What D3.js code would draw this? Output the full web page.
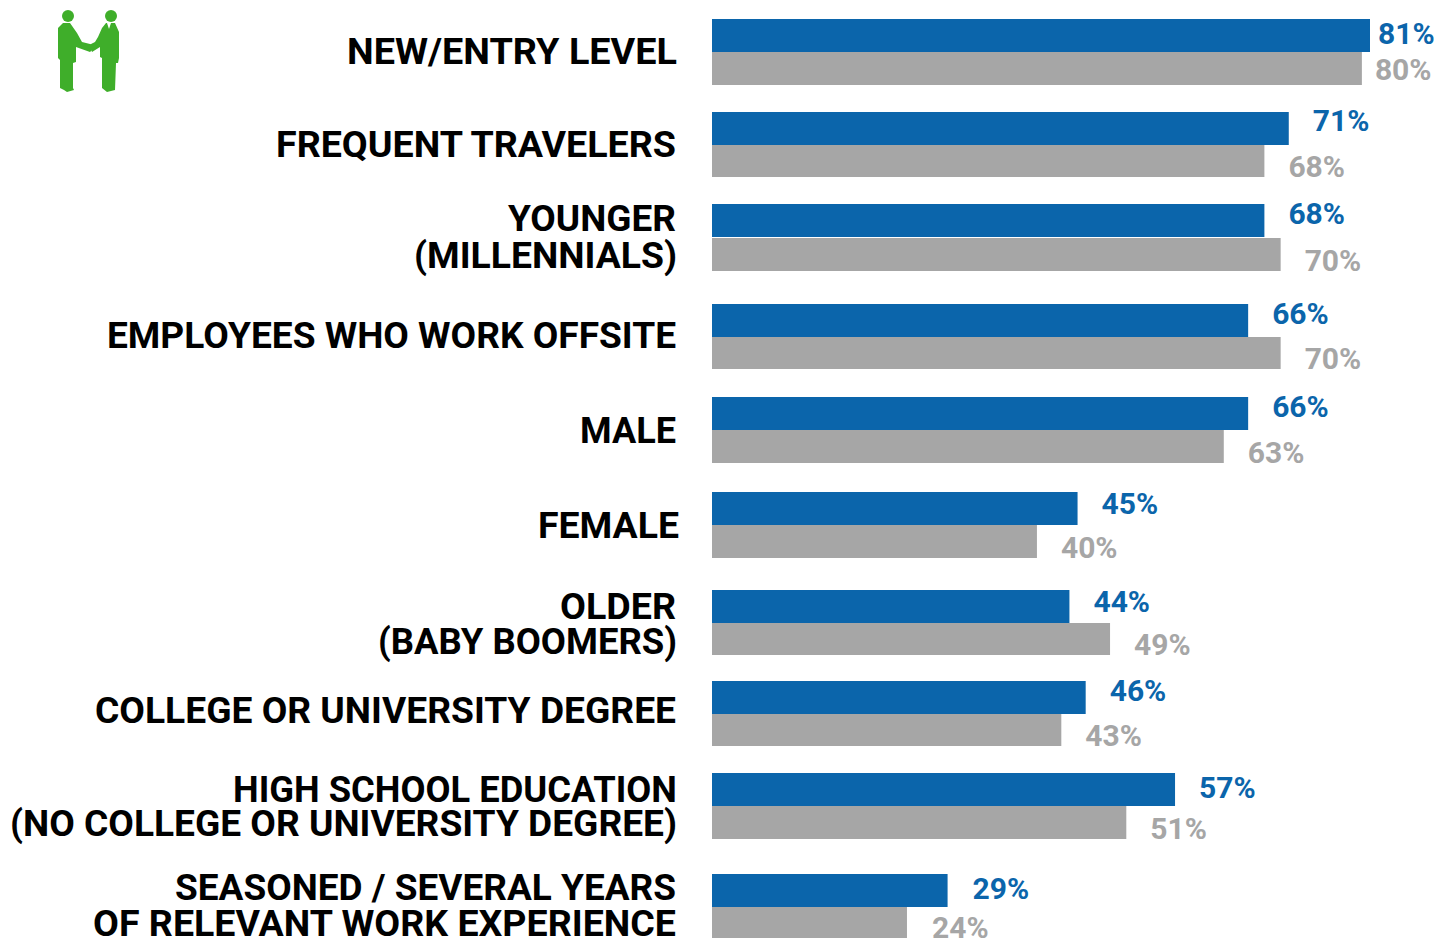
<!DOCTYPE html>
<html><head><meta charset="utf-8">
<script src="https://cdn.jsdelivr.net/npm/d3@7/dist/d3.min.js"></script>
<style>html,body{margin:0;padding:0;background:#fff;overflow:hidden}svg{display:block}
text{font-family:Roboto,sans-serif;font-weight:700}</style></head><body>
<script>
const categories = ["NEW/ENTRY LEVEL","FREQUENT TRAVELERS","YOUNGER|(MILLENNIALS)","EMPLOYEES WHO WORK OFFSITE","MALE","FEMALE","OLDER|(BABY BOOMERS)","COLLEGE OR UNIVERSITY DEGREE","HIGH SCHOOL EDUCATION|(NO COLLEGE OR UNIVERSITY DEGREE)","SEASONED / SEVERAL YEARS|OF RELEVANT WORK EXPERIENCE"];
const blueValues = [81,71,68,66,66,45,44,46,57,29];
const grayValues = [80,68,70,70,63,40,49,43,51,24];

// layout: the source spaces its rows unevenly
const rowNudge = [0,-2,-5,0,-2,-2,1,-3,-6,0];
const grayGap = [0,0,1,0,0,0,0,0,0,0];
const grayH = [33,32,33,32,33,33,32,32,33,31];
const blueLabelDy = [-2.5,-8.5,-7,-7,-7,-5,-5.5,-7.5,-2.5,-2.5];
const grayLabelDy = [1,4.5,6.5,4.5,5.5,5.5,4.5,4.5,5.5,3.5];
const labelDx = {blue:[8,24,24,24,24,24,24,24,24,25], gray:[13,24,24,24,24,24,24,24,24,25]};
const lineCentres = [[32],[32],[14,51],[31],[33],[33],[16,51],[29],[16,50],[13,49]];
const lineRight = [[677],[676],[676,677],[676],[676],[679],[676,677],[676],[677,677],[676,676]];
const lineWidth = [[330],[400],[168,263],[569],[96],[141],[116,299],[581],[444,667],[501,583]];

const W=1434,H=947,barH=33;
const svg=d3.select("body").append("svg").attr("width",W).attr("height",H);
const x=d3.scaleLinear().domain([0,81]).range([712,1370]);
const y=d3.scalePoint().domain(d3.range(categories.length)).range([19,874]);
const top_=i=>y(i)+rowNudge[i];

const rows=svg.selectAll("g.row").data(categories).join("g").attr("class","row");
rows.append("rect").attr("x",x(0)).attr("y",(d,i)=>top_(i)).attr("height",barH).attr("width",(d,i)=>x(blueValues[i])-x(0)).attr("fill","#0b65ab");
rows.append("rect").attr("x",x(0)).attr("y",(d,i)=>top_(i)+barH+grayGap[i]).attr("height",(d,i)=>grayH[i]).attr("width",(d,i)=>x(grayValues[i])-x(0)).attr("fill","#a6a6a6");
rows.append("text").attr("x",(d,i)=>x(blueValues[i])+labelDx.blue[i]).attr("y",(d,i)=>top_(i)+barH/2+blueLabelDy[i]).attr("dy","0.35em").attr("font-size",30).attr("fill","#0b65ab").text((d,i)=>blueValues[i]+"%");
rows.append("text").attr("x",(d,i)=>x(grayValues[i])+labelDx.gray[i]).attr("y",(d,i)=>top_(i)+barH*1.5+grayLabelDy[i]).attr("dy","0.35em").attr("font-size",30).attr("fill","#a6a6a6").text((d,i)=>grayValues[i]+"%");
rows.each(function(d,i){
  d.split("|").forEach((line,k)=>{
    d3.select(this).append("text").attr("x",lineRight[i][k]).attr("y",top_(i)+lineCentres[i][k]).attr("dy","0.355em")
      .attr("text-anchor","end").attr("font-size",37).attr("fill","#000")
      .attr("textLength",lineWidth[i][k]).attr("lengthAdjust","spacingAndGlyphs").text(line);
  });
});

// handshake icon
const icon=svg.append("g").attr("fill","#3fae2a");
icon.append("circle").attr("cx",68).attr("cy",16).attr("r",6);
icon.append("circle").attr("cx",111).attr("cy",16).attr("r",6);
icon.append("path").attr("d","M58 28 L59 27 L63 23 L70 23 L77 33 L82 42 L90 44 L95 47 L90 52 L76 47 L76 62 L73 63 L73 88 L74 90 L67 92 L64 90 L60 88 L60 60 L58 58 Z");
icon.append("path").attr("d","M102 28 L106 23 L115 23 L119 32 L119 58 L118 63 L116 63 L115 90 L107 92 L102 88 L102 58 L100 57 L100 47 L92 52 L89 45 L95 42 L98 37 Z");
icon.append("path").attr("d","M107 23 L109 29 L111 23 Z").attr("fill","#fff");
</script></body></html>
